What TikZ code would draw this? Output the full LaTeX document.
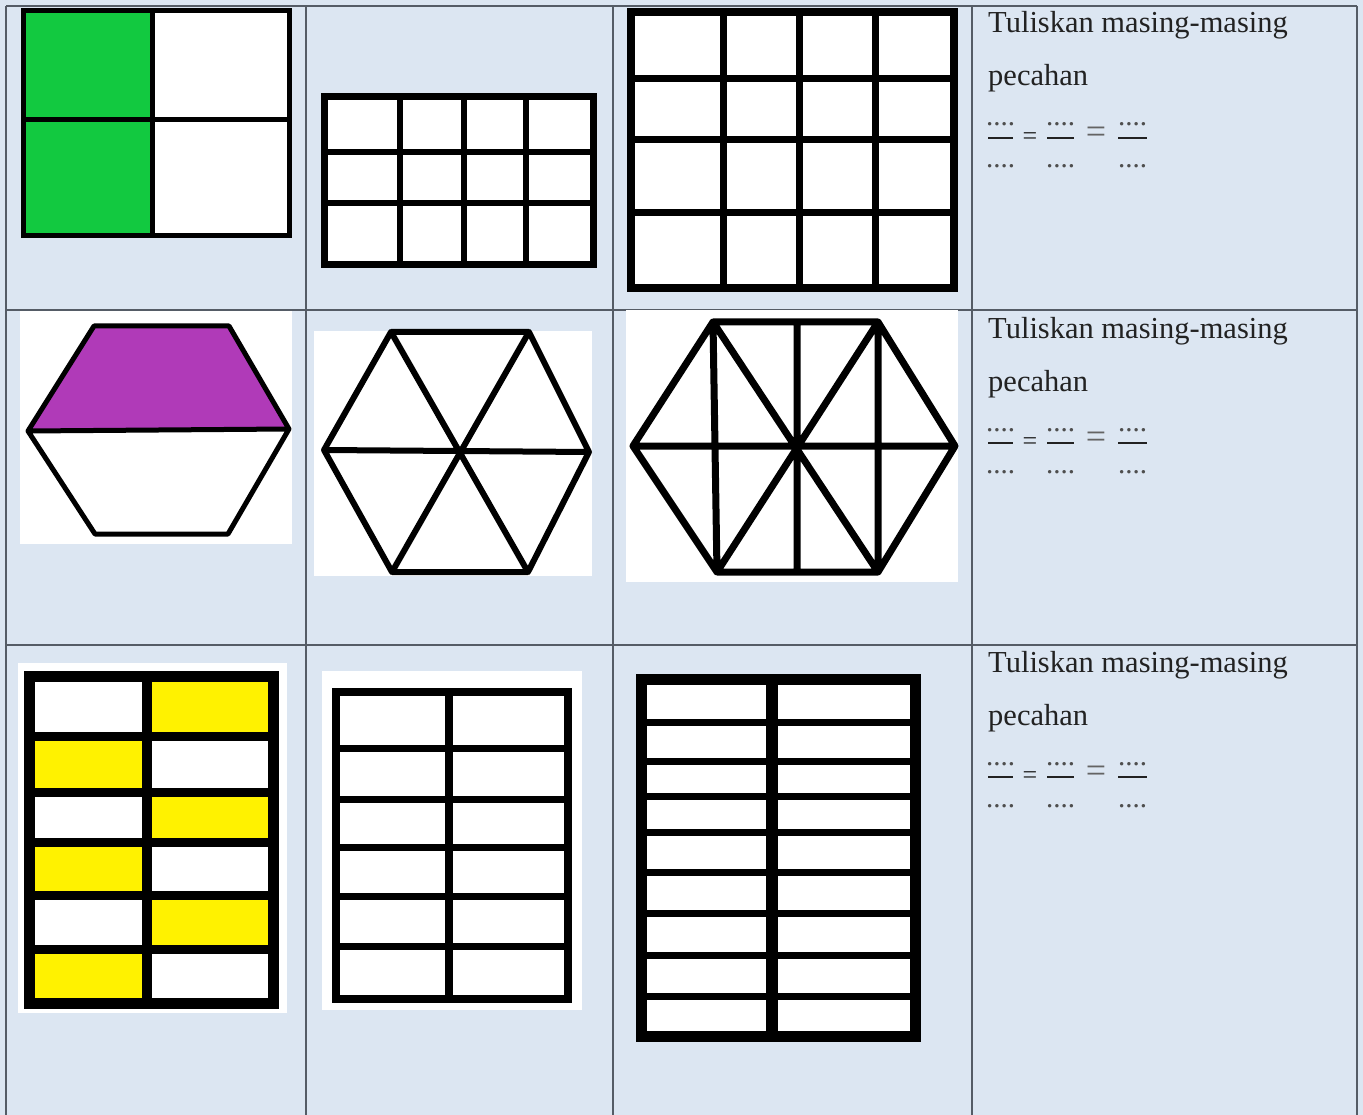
\documentclass[tikz,border=0pt]{standalone}
\usepackage{fontspec}
\setmainfont{Liberation Serif}
\usepackage{tikz}
\usetikzlibrary{positioning}
\definecolor{cellblue}{HTML}{DCE6F2}
\definecolor{tablegray}{HTML}{555C66}
\definecolor{textgray}{HTML}{222222}
\definecolor{leafgreen}{HTML}{12C940}
\definecolor{plum}{HTML}{B03AB8}
\definecolor{sun}{HTML}{FFF200}

\begin{document}
\begin{tikzpicture}[
x=1pt, y=-1pt,
tabline/.style={draw=tablegray, line width=1.5pt},
hexline/.style={draw=black, line join=round, line cap=round},
txt/.style={inner sep=0, text=textgray, font=\fontsize{30.5}{36}\selectfont},
dots/.style={txt, text=textgray!80, anchor=base, font=\fontsize{29}{34}\selectfont},
fracbar/.style={draw=textgray, line width=2.6pt}
]
\fill[cellblue] (0,0) rectangle (1363,1115);
\useasboundingbox (0,0) rectangle (1363,1115);
% table
\foreach \xx in {6,306,613,972,1357} \draw[tabline] (\xx,6) -- (\xx,1115);
\foreach \yy in {6,310,645} \draw[tabline] (6,\yy) -- (1357,\yy);

% row 1: squares
\fill[white] (23.5,10.5) rectangle (289.5,235.5);
\fill[leafgreen] (23.5,10.5) rectangle (152,235.5);
\draw[line width=5pt] (152,10.5) -- (152,235.5) (23.5,120) -- (289.5,120);
\draw[line width=5pt] (23.5,10.5) rectangle (289.5,235.5);

\fill[white] (324.5,96.5) rectangle (593.5,264.5);
\foreach \xx in {400,464,526} \draw[line width=6pt] (\xx,96.5) -- (\xx,264.5);
\foreach \yy in {152,203} \draw[line width=6pt] (324.5,\yy) -- (593.5,\yy);
\draw[line width=7pt] (324.5,96.5) rectangle (593.5,264.5);

\fill[white] (631,12) rectangle (954,288);
\foreach \xx in {723,799,875} \draw[line width=7pt] (\xx,12) -- (\xx,288);
\foreach \yy in {79,140,213} \draw[line width=7pt] (631,\yy) -- (954,\yy);
\draw[line width=8pt] (631,12) rectangle (954,288);

% row 2: hexagons
\fill[white] (20,311) rectangle (292,544);
\fill[plum] (94,326) -- (229,326) -- (289,429) -- (28,431) -- cycle;
\draw[hexline, line width=5pt] (94,326) -- (229,326) -- (289,429) -- (228,534) -- (95,534) -- (28,431) -- cycle
  (28,431) -- (289,429);

\fill[white] (314,331) rectangle (592,576);
\draw[hexline, line width=6pt] (391,332) -- (529,332) -- (589,452) -- (528,572) -- (392,572) -- (324,450) -- cycle
  (324,450) -- (589,452) (391,332) -- (528,572) (529,332) -- (392,572);

\fill[white] (626,310) rectangle (958,582);
\draw[hexline, line width=7pt] (713,322) -- (878,322) -- (955,446) -- (878,572) -- (717,572) -- (633,446) -- cycle
  (633,446) -- (955,446) (713,322) -- (717,572) (797,322) -- (797,572) (878,322) -- (878,572)
  (713,322) -- (878,572) (878,322) -- (717,572);

% row 3: strips
\fill[white] (18,663) rectangle (287,1013);
\foreach \ya/\yb/\xa/\xb in {676.5/736/147/273.5, 736/792/29.5/147, 792/842/147/273.5,
    842/895/29.5/147, 895/949/147/273.5, 949/1003.5/29.5/147}
  \fill[sun] (\xa,\ya) rectangle (\xb,\yb);
\draw[line width=10pt] (147,676.5) -- (147,1003.5);
\foreach \yy in {736,792,842,895,949} \draw[line width=9pt] (29.5,\yy) -- (273.5,\yy);
\draw[line width=11pt] (29.5,676.5) rectangle (273.5,1003.5);

\fill[white] (322,671) rectangle (582,1010);
\draw[line width=8pt] (449,692) -- (449,999);
\foreach \yy in {748,799,847,896,946} \draw[line width=7pt] (336,\yy) -- (568,\yy);
\draw[line width=8pt] (336,692) rectangle (568,999);

\fill[white] (642,680) rectangle (915,1036);
\draw[line width=12pt] (772,680) -- (772,1036);
\foreach \yy in {722,761,796,832,872,913,955,996} \draw[line width=7pt] (642,\yy) -- (915,\yy);
\draw[line width=11pt] (641.5,679.5) rectangle (915.5,1036.5);

% text column
\foreach \r/\o in {1/0, 2/305, 3/639} {
  \node[txt, anchor=base west] (tul\r) at (988,33+\o) {Tuliskan masing-masing};
  \node[txt, below=53pt of tul\r.base west, anchor=base west] (pec\r) {pecahan};
  \foreach \a/\b [count=\k] in {988/1013, 1047/1074, 1118/1147} {
    \draw[fracbar] (\a,138+\o) -- (\b,138+\o);
    \node[dots] (num\r\k) at ({(\a+\b)/2},126+\o) {....};
    \node[dots] (den\r\k) at ({(\a+\b)/2},168+\o) {....};
  }
  \node[txt, font=\fontsize{26}{28}\selectfont] (eqa\r) at (1030,139+\o) {=};
  \node[txt, text=textgray!70, font=\fontsize{36}{38}\selectfont] (eqb\r) at (1096,135+\o) {=};
}
\end{tikzpicture}
\end{document}
